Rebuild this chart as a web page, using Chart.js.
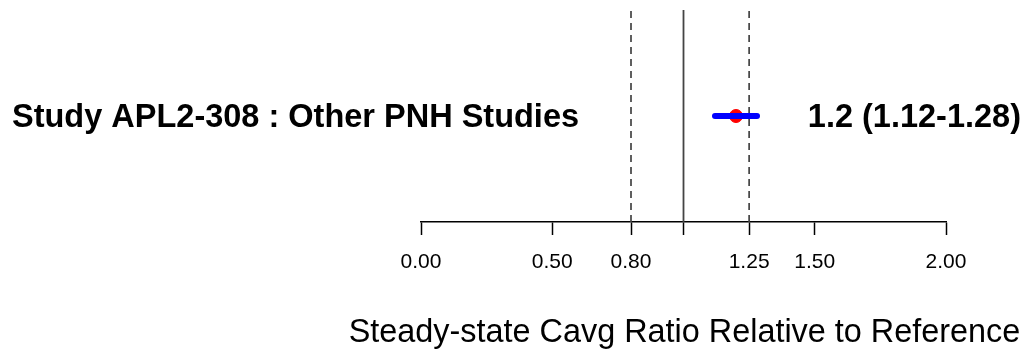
<!DOCTYPE html>
<html>
<head>
<meta charset="utf-8">
<script src="https://cdn.jsdelivr.net/npm/chart.js@4/dist/chart.umd.min.js"></script>
<style>
  html, body { margin: 0; padding: 0; background: #fff; }
  #wrap { width: 1025px; height: 353px; }
</style>
</head>
<body>
<div id="wrap"><canvas id="forest"></canvas></div>
<script>
// Forest plot data
const studies = ['Study APL2-308 : Other PNH Studies'];
const ratios = [1.2];
const lowerCI = [1.12];
const upperCI = [1.28];
const ciLabels = ['1.2 (1.12-1.28)'];

// Axis ticks and reference lines
const tickValues = [0, 0.5, 0.8, 1.0, 1.25, 1.5, 2.0];
const tickLabels = ['0.00', '0.50', '0.80', '', '1.25', '1.50', '2.00'];
const boundLines = [0.8, 1.25];
const unityLine = 1.0;
const xTitle = 'Steady-state Cavg Ratio Relative to Reference';

const FONT = 'Arial, "Liberation Sans", sans-serif';
const rowY = studies.map((s, i) => studies.length - i);

// row labels, estimate text and the axis title (wider than the plot area,
// so it is drawn here instead of by the scale)
const textLayer = {
    id: 'textLayer',
    afterDatasetsDraw(chart) {
        const ctx = chart.ctx;
        const x = chart.scales.x;
        const y = chart.scales.y;
        ctx.save();
        ctx.fillStyle = '#000';
        ctx.font = 'bold 32.5px ' + FONT;
        ctx.textBaseline = 'middle';
        studies.forEach((s, i) => {
            const py = y.getPixelForValue(rowY[i]) + 2;
            ctx.textAlign = 'left';
            ctx.fillText(s, 12, py);
            ctx.textAlign = 'right';
            ctx.fillText(ciLabels[i], 1021, py);
        });
        ctx.font = '32.4px ' + FONT;
        ctx.textAlign = 'center';
        ctx.fillText(xTitle, x.getPixelForValue(1) + 1, x.bottom - 20);
        ctx.restore();
    }
};

const datasets = [];
// confidence interval bars (first = drawn on top)
studies.forEach((s, i) => {
    datasets.push({
        type: 'line',
        data: [{ x: lowerCI[i], y: rowY[i] }, { x: upperCI[i], y: rowY[i] }],
        borderColor: '#0000ff',
        borderWidth: 6,
        borderCapStyle: 'round',
        pointRadius: 0
    });
});
datasets.push({
    type: 'scatter',
    data: ratios.map((r, i) => ({ x: r, y: rowY[i] })),
    backgroundColor: '#ff0000',
    borderColor: '#ff0000',
    pointRadius: 6.5
});
boundLines.forEach(v => {
    datasets.push({
        type: 'line',
        data: [{ x: v, y: 0 }, { x: v, y: 2 }],
        borderColor: '#444',
        borderWidth: 1.7,
        borderDash: [7, 5],
        pointRadius: 0
    });
});
datasets.push({
    type: 'line',
    data: [{ x: unityLine, y: 0 }, { x: unityLine, y: 2 }],
    borderColor: '#444',
    borderWidth: 1.8,
    pointRadius: 0
});

new Chart(document.getElementById('forest'), {
    type: 'scatter',
    data: { datasets },
    plugins: [textLayer],
    options: {
        responsive: true,
        maintainAspectRatio: false,
        animation: false,
        layout: { padding: { left: 421, right: 79, top: 10, bottom: 0 } },
        plugins: { legend: { display: false }, tooltip: { enabled: false } },
        scales: {
            x: {
                type: 'linear',
                min: 0,
                max: 2,
                afterBuildTicks: scale => {
                    scale.ticks = tickValues.map(v => ({ value: v }));
                },
                afterFit: scale => { scale.height = 131; },
                border: { display: true, color: '#000', width: 1.5 },
                grid: {
                    drawOnChartArea: false,
                    drawTicks: true,
                    tickLength: 13,
                    tickWidth: 1.5,
                    tickColor: '#000'
                },
                ticks: {
                    autoSkip: false,
                    maxRotation: 0,
                    padding: 15,
                    color: '#000',
                    font: { family: FONT, size: 21 },
                    callback: (v, i) => tickLabels[i]
                }
            },
            y: {
                display: false,
                min: 0,
                max: 2
            }
        }
    }
});
</script>
</body>
</html>
